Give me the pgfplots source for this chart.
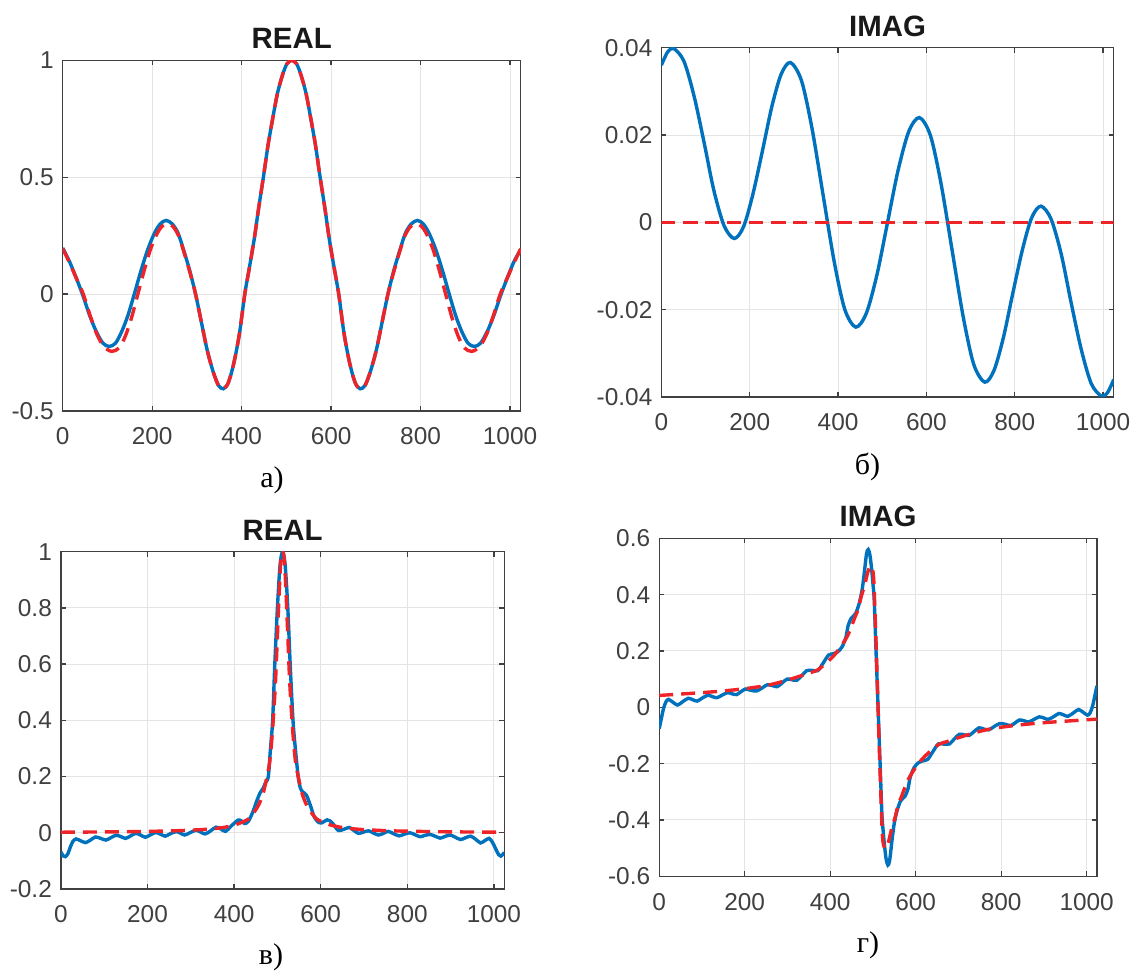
\documentclass[border=0pt]{standalone}
\usepackage{fontspec}
\setmainfont{Liberation Sans}
\newfontfamily\capfont{Liberation Serif}
\usepackage{pgfplots}
\pgfplotsset{compat=1.18}

\definecolor{mblue}{RGB}{0,114,189}
\definecolor{mred}{RGB}{238,36,40}
\definecolor{axgray}{RGB}{64,64,64}
\definecolor{gridgray}{RGB}{228,228,228}

\pgfplotsset{
  every axis title/.style={at={(0.5,1)}, anchor=base, yshift=5.8pt,
    font=\fontsize{14.7}{16}\selectfont\bfseries, text=black!90},
  mat/.style={
    scale only axis,
    xmin=0, xmax=1024,
    xtick={0,200,400,600,800,1000},
    xticklabels={0,200,400,600,800,1000},
    scaled y ticks=false, scaled x ticks=false,
    grid=major,
    grid style={gridgray, line width=0.5pt},
    axis line style={axgray, line width=0.65pt},
    every tick/.style={axgray, line width=0.65pt},
    major tick length=2.5pt,
    tick align=inside,
    ticklabel style={font=\fontsize{12.2}{14}\selectfont, text=axgray},
    xticklabel style={anchor=base, yshift=-17pt},
    yticklabel style={anchor=east, xshift=-1pt},
  },
  blueline/.style={mblue, line width=1.7pt, smooth},
  redline/.style={mred, line width=1.7pt, dash pattern=on 7pt off 4pt, smooth},
}

\begin{document}
\begin{tikzpicture}
\useasboundingbox (0,0) rectangle (569pt,486pt);

% a) REAL
\begin{axis}[mat, at={(31.35pt,280.5pt)}, anchor=south west,
  width=229.05pt, height=175.35pt, title={REAL},
  ymin=-0.5, ymax=1, ytick={-0.5,0,0.5,1}, yticklabels={-0.5,0,0.5,1}]
\addplot[blueline] coordinates {
(0,0.197)(15,0.14)(30,0.07)(44,0)(60,-0.09)(75,-0.16)(90,-0.21)(104,-0.224)
(118,-0.21)(132,-0.16)(146,-0.09)(160,0)(175,0.10)(190,0.19)(205,0.26)(218,0.30)
(231,0.315)(245,0.30)(258,0.26)(270,0.19)(284,0.10)(297,0)(310,-0.12)(323,-0.24)
(336,-0.33)(348,-0.39)(359,-0.405)(370,-0.38)(382,-0.30)(395,-0.17)(407,0)(417,0.11)
(428,0.234)(438,0.368)(449,0.505)(459,0.637)(470,0.757)(480,0.858)(491,0.935)(501,0.984)
(512,1)(523,0.984)(533,0.935)(544,0.858)(554,0.757)(565,0.637)(575,0.505)(586,0.368)
(596,0.234)(607,0.11)(617,0)(629,-0.17)(642,-0.30)(654,-0.38)(665,-0.405)(676,-0.39)
(688,-0.33)(701,-0.24)(714,-0.12)(727,0)(740,0.10)(754,0.19)(766,0.26)(779,0.30)
(793,0.315)(806,0.30)(819,0.26)(834,0.19)(849,0.10)(864,0)(878,-0.09)(892,-0.16)
(906,-0.21)(920,-0.224)(934,-0.21)(949,-0.16)(964,-0.09)(980,0)(994,0.07)(1009,0.14)
(1024,0.19)
};
\addplot[redline] coordinates {
(0,0.195)(15,0.135)(30,0.07)(46,0)(61,-0.09)(76,-0.17)(92,-0.225)(110,-0.245)
(126,-0.23)(140,-0.18)(154,-0.10)(168,0)(182,0.10)(196,0.19)(210,0.255)(222,0.29)
(234,0.30)(246,0.29)(259,0.25)(271,0.18)(284,0.095)(297,0)(310,-0.12)(323,-0.24)
(336,-0.33)(348,-0.39)(359,-0.405)(370,-0.38)(382,-0.30)(395,-0.17)(407,0)(417,0.11)
(428,0.234)(438,0.368)(449,0.505)(459,0.637)(470,0.757)(480,0.858)(491,0.935)(501,0.984)
(512,1)(523,0.984)(533,0.935)(544,0.858)(554,0.757)(565,0.637)(575,0.505)(586,0.368)
(596,0.234)(607,0.11)(617,0)(629,-0.17)(642,-0.30)(654,-0.38)(665,-0.405)(676,-0.39)
(688,-0.33)(701,-0.24)(714,-0.12)(727,0)(740,0.095)(753,0.18)(765,0.25)(778,0.29)
(790,0.30)(802,0.29)(814,0.255)(828,0.19)(842,0.10)(856,0)(870,-0.10)(884,-0.18)
(898,-0.23)(914,-0.245)(932,-0.225)(948,-0.17)(963,-0.09)(978,0)(994,0.07)(1009,0.135)
(1024,0.195)
};
\end{axis}

% b) IMAG
\begin{axis}[mat, at={(330.7pt,287.5pt)}, anchor=south west,
  width=226.15pt, height=174.65pt, title={IMAG},
  ymin=-0.04, ymax=0.04, ytick={-0.04,-0.02,0,0.02,0.04},
  yticklabels={-0.04,-0.02,0,0.02,0.04}]
\addplot[blueline] coordinates {
(0,0.0360)(14,0.0390)(28,0.0398)(51,0.0369)(74,0.0289)(97,0.0181)(119,0.0072)
(142,-0.0008)(165,-0.0037)(186,-0.0010)(207,0.0064)(229,0.0165)(250,0.0265)
(271,0.0339)(292,0.0366)(317,0.0325)(341,0.0215)(366,0.0063)(391,-0.0089)
(415,-0.0199)(440,-0.0240)(464,-0.0208)(488,-0.0120)(512,0)(536,0.0120)
(560,0.0208)(584,0.0240)(609,0.0199)(633,0.0089)(658,-0.0063)(683,-0.0215)
(707,-0.0325)(732,-0.0366)(753,-0.0339)(774,-0.0265)(795,-0.0165)(817,-0.0064)
(838,0.0010)(859,0.0037)(882,0.0008)(905,-0.0072)(927,-0.0181)(950,-0.0289)
(973,-0.0369)(996,-0.0398)(1010,-0.0390)(1024,-0.0360)
};
\addplot[redline] coordinates {(0,0)(1024,0)};
\end{axis}

% c) REAL
\begin{axis}[mat, at={(30.45pt,41.5pt)}, anchor=south west,
  width=221.7pt, height=168.65pt, title={REAL},
  ymin=-0.2, ymax=1, ytick={-0.2,0,0.2,0.4,0.6,0.8,1},
  yticklabels={-0.2,0,0.2,0.4,0.6,0.8,1}]
\addplot[blueline] coordinates {
(0,-0.068)(5,-0.082)(10,-0.085)(16,-0.075)(22,-0.05)(28,-0.03)(35,-0.022)(45,-0.028)
(57,-0.035)(68,-0.026)(80,-0.015)(92,-0.020)(104,-0.026)(116,-0.017)(127,-0.009)
(138,-0.013)(149,-0.020)(161,-0.011)(173,-0.002)(184,-0.008)(195,-0.016)(207,-0.007)
(219,0.001)(230,-0.005)(241,-0.012)(253,-0.003)(266,0.004)(276,-0.001)(286,-0.008)
(299,0.001)(312,0.009)(322,0.003)(333,-0.004)(345,0.006)(358,0.020)(369,0.014)
(380,0.005)(394,0.025)(409,0.045)(417,0.042)(424,0.033)(433,0.041)(444,0.077)
(452,0.112)(460,0.142)(467,0.158)(473,0.18)(479,0.2)(484,0.3)(489,0.4)(494,0.6)
(500,0.8)(506,0.95)(512,1.0)(518,0.95)(524,0.8)(529.5,0.6)(536,0.4)(542,0.29)
(548,0.2)(552,0.165)(556,0.15)(563,0.14)(567,0.134)(572,0.115)(578,0.089)(584,0.06)
(590,0.045)(596,0.036)(602,0.035)(608,0.040)(615,0.046)(622,0.042)(628,0.033)
(634,0.02)(641,0.008)(653,0.012)(666,0.019)(676,0.009)(687,-0.002)(698,0.002)
(710,0.007)(721,0.000)(733,-0.008)(745,-0.002)(756,0.005)(768,-0.003)(781,-0.011)
(793,-0.005)(806,0.000)(818,-0.007)(830,-0.014)(841,-0.009)(853,-0.006)(864,-0.012)
(876,-0.019)(887,-0.013)(899,-0.008)(911,-0.016)(923,-0.024)(934,-0.018)(946,-0.012)
(957,-0.022)(969,-0.036)(979,-0.028)(989,-0.02)(997,-0.035)(1005,-0.06)(1011,-0.078)
(1016,-0.083)(1020,-0.078)(1024,-0.07)
};
\addplot[redline] coordinates {
(0,0.002)(100,0.003)(162,0.004)(262,0.007)(332,0.012)(372,0.018)(402,0.028)(422,0.04)
(434,0.05)(447,0.075)(457,0.10)(467,0.14)(476,0.2)(482,0.25)(487,0.33)(492,0.44)
(496,0.55)(500,0.70)(504,0.85)(508,0.97)(512,1)(516,0.97)(520,0.85)(524,0.70)
(528,0.55)(532,0.44)(537,0.33)(542,0.25)(548,0.2)(557,0.14)(567,0.10)(577,0.075)
(590,0.05)(602,0.04)(622,0.028)(652,0.018)(692,0.012)(762,0.007)(862,0.004)(924,0.003)
(1024,0.002)
};
\end{axis}

% d) IMAG
\begin{axis}[mat, at={(329.6pt,47.85pt)}, anchor=south west,
  width=218.85pt, height=169pt, title={IMAG},
  ymin=-0.6, ymax=0.6, ytick={-0.6,-0.4,-0.2,0,0.2,0.4,0.6},
  yticklabels={-0.6,-0.4,-0.2,0,0.2,0.4,0.6}]
\addplot[blueline] coordinates {
(0,-0.076)(5,-0.040)(10,-0.005)(16,0.020)(22,0.028)(32,0.018)(43,0.008)(55,0.020)
(68,0.032)(78,0.027)(89,0.022)(101,0.033)(114,0.043)(124,0.038)(135,0.034)(147,0.043)
(160,0.052)(170,0.048)(181,0.045)(191,0.055)(202,0.065)(215,0.060)(228,0.058)
(240,0.068)(253,0.080)(265,0.077)(276,0.073)(288,0.087)(299,0.100)(310,0.098)
(322,0.096)(334,0.113)(345,0.130)(358,0.131)(371,0.130)(384,0.158)(396,0.185)
(407,0.190)(417,0.196)(428,0.215)(437,0.250)(442,0.290)(449,0.316)(455,0.325)
(460,0.334)(465,0.355)(469,0.375)(475,0.420)(480,0.480)(485,0.545)(489,0.560)
(493,0.540)(497,0.490)(500,0.440)(503,0.380)(507,0.210)(510,0.085)(512,0)
(514,-0.085)(517,-0.210)(521,-0.380)(524,-0.440)(527,-0.490)(531,-0.540)(535,-0.560)
(539,-0.545)(544,-0.480)(549,-0.420)(555,-0.375)(559,-0.355)(564,-0.334)(569,-0.325)
(575,-0.316)(582,-0.290)(587,-0.250)(596,-0.215)(607,-0.196)(617,-0.190)(628,-0.185)
(640,-0.158)(653,-0.130)(666,-0.131)(679,-0.130)(690,-0.113)(702,-0.096)(714,-0.098)
(725,-0.100)(736,-0.087)(748,-0.073)(759,-0.077)(771,-0.080)(784,-0.068)(796,-0.058)
(809,-0.060)(822,-0.065)(833,-0.055)(843,-0.045)(854,-0.048)(864,-0.052)(877,-0.043)
(889,-0.034)(900,-0.038)(910,-0.043)(923,-0.033)(935,-0.022)(946,-0.027)(956,-0.032)
(969,-0.020)(981,-0.008)(992,-0.018)(1002,-0.028)(1008,-0.020)(1014,0.005)(1019,0.040)
(1024,0.076)
};
\addplot[redline] coordinates {
(0,0.042)(50,0.047)(100,0.052)(150,0.058)(200,0.066)(250,0.077)(285,0.090)(320,0.106)
(347,0.12)(371,0.133)(400,0.170)(420,0.205)(441,0.255)(458,0.32)(465,0.346)(472,0.39)
(480,0.43)(488,0.48)(494,0.502)(499,0.49)(502,0.45)(505,0.33)(508,0.2)(512,0)
(516,-0.2)(519,-0.33)(522,-0.45)(525,-0.49)(530,-0.502)(536,-0.48)(544,-0.43)
(552,-0.39)(559,-0.346)(566,-0.32)(583,-0.255)(604,-0.205)(624,-0.17)(653,-0.133)
(677,-0.12)(704,-0.106)(739,-0.09)(774,-0.077)(824,-0.066)(874,-0.058)(924,-0.052)
(974,-0.047)(1024,-0.042)
};
\end{axis}

\node[font=\capfont\fontsize{15}{17}\selectfont, anchor=base] at (136pt,242pt) {а)};
\node[font=\capfont\fontsize{15}{17}\selectfont, anchor=base] at (433.75pt,248.5pt) {б)};
\node[font=\capfont\fontsize{15}{17}\selectfont, anchor=base] at (135.5pt,3.5pt) {в)};
\node[font=\capfont\fontsize{15}{17}\selectfont, anchor=base] at (434pt,9.5pt) {г)};
\end{tikzpicture}
\end{document}
